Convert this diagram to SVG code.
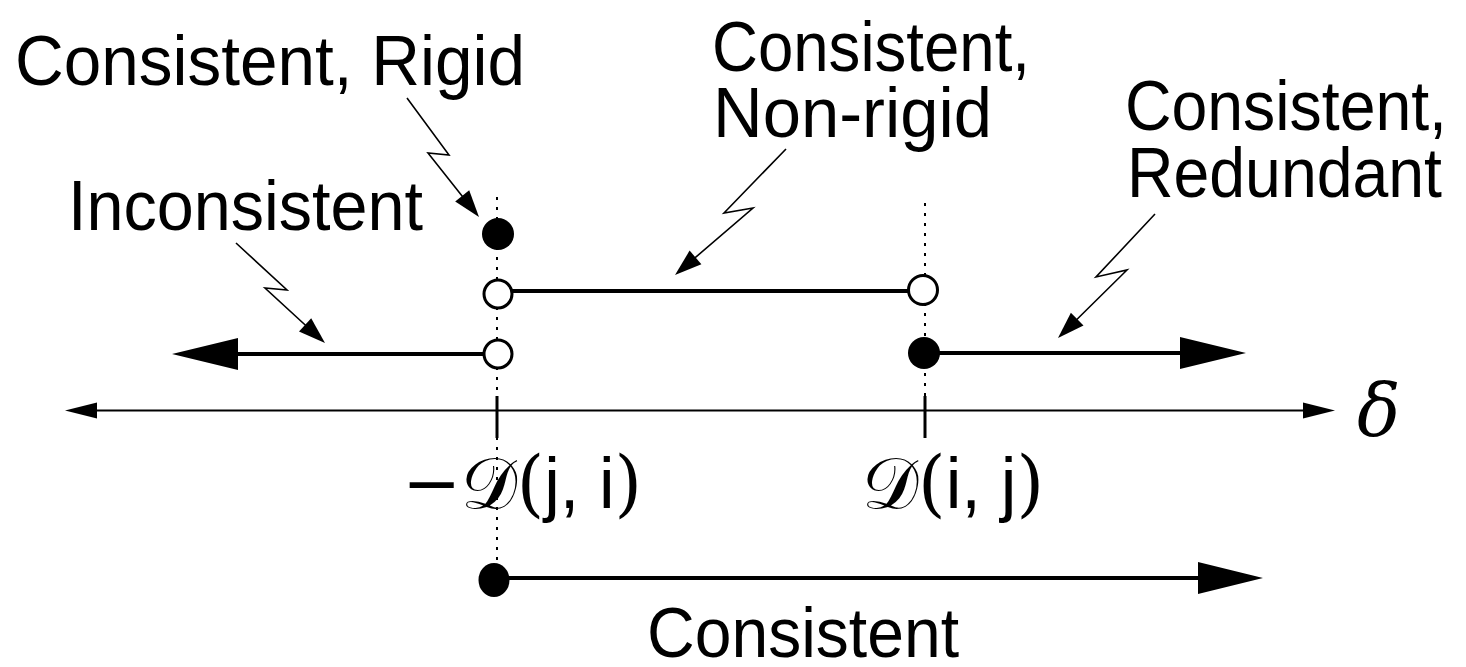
<svg xmlns="http://www.w3.org/2000/svg" width="1466" height="667" viewBox="0 0 1466 667">
<style>
.lbl{font-family:"Liberation Sans",Arial,sans-serif;font-size:70px;fill:#000}
.math{font-family:"DejaVu Serif","Liberation Serif",serif;font-size:72px;fill:#000}
.thick{stroke:#000;stroke-width:4;fill:none}
.thin{stroke:#000;stroke-width:1.6;fill:none;stroke-linejoin:miter}
.axis{stroke:#000;stroke-width:2.2;fill:none}
.tick{stroke:#000;stroke-width:3;fill:none}
.dot{stroke:#000;stroke-width:2;stroke-dasharray:3 7;fill:none}
.open{fill:#fff;stroke:#000;stroke-width:3}
.full{fill:#000;stroke:none}
.head{fill:#000;stroke:none}
</style>
<rect width="1466" height="667" fill="#fff"/>
<g id="guides">
<line class="dot" x1="497" y1="197" x2="497" y2="590"/>
<line class="dot" x1="925" y1="203" x2="925" y2="440"/>
</g>
<g id="axis">
<line class="axis" x1="92" y1="410.5" x2="1310" y2="410.5"/>
<polygon class="head" points="65,410.5 97,402.5 97,418.5"/>
<polygon class="head" points="1335,410.5 1303,402.5 1303,418.5"/>
<line class="tick" x1="497" y1="396" x2="497" y2="438"/>
<line class="tick" x1="925" y1="396" x2="925" y2="438"/>
<text class="math" x="1357" y="436" font-style="italic" font-family="Liberation Serif, serif">δ</text>
</g>
<g id="label-neg-dji">
<text class="math" x="402" y="508" textLength="240" lengthAdjust="spacingAndGlyphs">−𝒟(<tspan font-family="Liberation Sans, sans-serif">j, i</tspan>)</text>
</g>
<g id="label-dij">
<text class="math" x="862" y="508" textLength="182" lengthAdjust="spacingAndGlyphs">𝒟(<tspan font-family="Liberation Sans, sans-serif">i, j</tspan>)</text>
</g>
<g id="connectors">
<line class="thick" x1="512" y1="291" x2="908" y2="291"/>
<line class="thick" x1="484" y1="354" x2="232" y2="354"/>
<polygon class="head" points="172,354 238,338 238,370"/>
<line class="thick" x1="924" y1="353" x2="1185" y2="353"/>
<polygon class="head" points="1246,353 1180,337 1180,369"/>
<line class="thick" x1="494" y1="578" x2="1203" y2="578"/>
<polygon class="head" points="1263,578 1198,562 1198,594"/>
<polyline class="thin" points="407,98 449,155 428,153 470,206"/>
<polygon class="head" points="479,217 455.2,201.5 469.2,190.3"/>
<polyline class="thin" points="236,243 287,290 265,288 315,334"/>
<polygon class="head" points="325,343 299,331.4 311.2,318.2"/>
<polyline class="thin" points="786,149 724,213 753,208 686.4,265.2"/>
<polygon class="head" points="675,275 701.4,264.2 689.6,250.6"/>
<polyline class="thin" points="1155,214 1096,277 1127,270 1068.7,327.5"/>
<polygon class="head" points="1058,338 1083.5,325.5 1070.9,312.7"/>
</g>
<g id="points">
<circle class="full" cx="498" cy="234" r="16"/>
<circle class="open" cx="498" cy="294" r="14"/>
<circle class="open" cx="498" cy="354" r="14"/>
<circle class="open" cx="923" cy="290" r="14.5"/>
<circle class="full" cx="924" cy="353" r="16"/>
<ellipse class="full" cx="494" cy="580" rx="15.5" ry="17"/>
</g>
<g id="label-rigid">
<text class="lbl" x="15" y="85" textLength="510" lengthAdjust="spacingAndGlyphs">Consistent, Rigid</text>
</g>
<g id="label-inconsistent">
<text class="lbl" x="68" y="230" textLength="355" lengthAdjust="spacingAndGlyphs">Inconsistent</text>
</g>
<g id="label-nonrigid">
<text class="lbl" x="712" y="71" textLength="318" lengthAdjust="spacingAndGlyphs">Consistent,</text>
<text class="lbl" x="713" y="137" textLength="279" lengthAdjust="spacingAndGlyphs">Non-rigid</text>
</g>
<g id="label-redundant">
<text class="lbl" x="1125" y="130" textLength="322" lengthAdjust="spacingAndGlyphs">Consistent,</text>
<text class="lbl" x="1127" y="197" textLength="315" lengthAdjust="spacingAndGlyphs">Redundant</text>
</g>
<g id="label-consistent">
<text class="lbl" x="647" y="657" textLength="312" lengthAdjust="spacingAndGlyphs">Consistent</text>
</g>
</svg>
